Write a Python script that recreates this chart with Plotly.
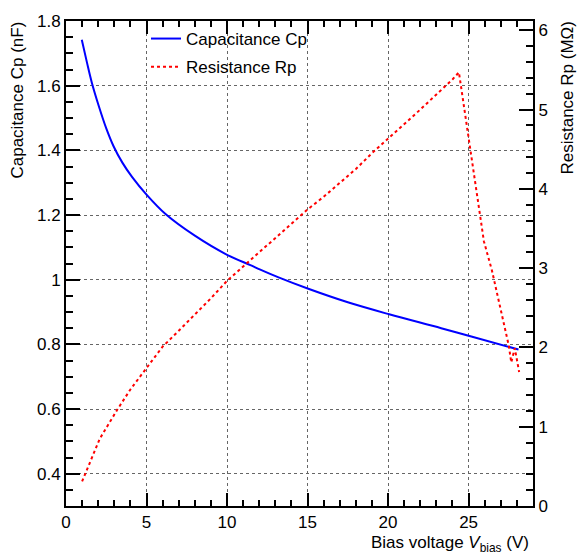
import plotly.graph_objects as go

# Capacitance data (V, nF)
cap_v = [0.98, 1.3, 1.6, 2.03, 2.5, 2.96, 3.5, 4.1, 5.0, 6.18, 8.0, 10.0, 11.45, 12.07,
         13.2, 15.09, 17.5, 20.07, 23.3, 25.17, 28.1]
cap_c = [1.742, 1.672, 1.610, 1.538, 1.468, 1.412, 1.362, 1.318, 1.263, 1.203, 1.136, 1.077,
         1.045, 1.031, 1.007, 0.971, 0.930, 0.893, 0.850, 0.824, 0.784]

# Resistance data (V, MOhm)
res_v = [1.0, 1.6, 2.1, 3.2, 4.0, 5.0, 6.0, 7.0, 8.0, 9.0, 10.0, 11.0, 12.0, 13.0, 14.0, 15.0,
         16.0, 17.0, 18.0, 19.0, 20.0, 21.0, 22.0, 23.0, 24.0, 24.4, 25.1, 25.95, 26.45, 27.5,
         27.65, 27.87, 28.14]
res_r = [0.31, 0.61, 0.85, 1.22, 1.47, 1.74, 2.01, 2.21, 2.41, 2.62, 2.84, 3.02, 3.19, 3.37,
         3.55, 3.74, 3.90, 4.07, 4.25, 4.45, 4.63, 4.82, 5.00, 5.19, 5.38, 5.47, 4.48, 3.34,
         2.97, 2.02, 1.81, 1.99, 1.69]

FONT = "Liberation Sans, Arial, sans-serif"
FS = 17

fig = go.Figure()
fig.add_trace(go.Scatter(x=cap_v, y=cap_c, mode="lines", name="Capacitance Cp",
                         line=dict(color="#0000ff", width=2, shape="spline", smoothing=1.0),
                         legendgroup="a"))
fig.add_trace(go.Scatter(x=res_v, y=res_r, mode="lines", name="Resistance Rp", yaxis="y2",
                         line=dict(color="#ff0000", width=2, dash="3px,3px"),
                         legendgroup="b"))

L, R, T, B = 66, 48, 13, 50
W, H = 581, 556
pw, ph = W - L - R, H - T - B

def px(xp):
    return (xp - L) / pw

def py(yp):
    return (H - B - yp) / ph

fig.update_layout(
    width=W, height=H,
    margin=dict(l=L, r=R, t=T, b=B, pad=0),
    paper_bgcolor="white", plot_bgcolor="white",
    font=dict(family=FONT, size=FS, color="black"),
    showlegend=True,
    legend=dict(x=px(146), y=py(13), xanchor="left", yanchor="top",
                bgcolor="rgba(255,255,255,0)", borderwidth=0,
                font=dict(size=FS), tracegroupgap=3),
    xaxis=dict(range=[0, 29], dtick=5, tick0=0, ticks="inside", ticklen=13, tickwidth=1.5,
               tickcolor="black", showline=True, linewidth=2, linecolor="black",
               mirror="ticks", showgrid=True, gridcolor="#666", griddash="dot", gridwidth=1,
               zeroline=False,
               minor=dict(dtick=1, ticks="inside", ticklen=6, tickwidth=1.5, tickcolor="black",
                          showgrid=False),
               tickfont=dict(size=FS)),
    yaxis=dict(range=[0.3, 1.8], dtick=0.2, tick0=0, ticks="inside", ticklen=14, tickwidth=1.5,
               tickcolor="black", showline=True, linewidth=2, linecolor="black",
               mirror=True, showgrid=True, gridcolor="#666", griddash="dot", gridwidth=1,
               zeroline=False,
               minor=dict(dtick=0.05, ticks="inside", ticklen=7, tickwidth=1.5,
                          tickcolor="black", showgrid=False),
               tickfont=dict(size=FS)),
    yaxis2=dict(range=[0, 6.117], dtick=1, tick0=0, overlaying="y", side="right",
                ticks="inside", ticklen=14, tickwidth=1.5, tickcolor="black",
                showline=True, linewidth=2, linecolor="black", showgrid=False,
                zeroline=False,
                minor=dict(dtick=0.2, ticks="inside", ticklen=7, tickwidth=1.5,
                           tickcolor="black", showgrid=False),
                tickfont=dict(size=FS)),
    annotations=[
        dict(text="Capacitance Cp (nF)", xref="paper", yref="paper", x=px(18), y=py(12),
             xanchor="center", yanchor="top", textangle=-90, showarrow=False,
             font=dict(size=FS)),
        dict(text="Resistance Rp (MΩ)", xref="paper", yref="paper", x=px(568), y=py(12),
             xanchor="center", yanchor="top", textangle=-90, showarrow=False,
             font=dict(size=FS)),
        dict(text="Bias voltage <i>V</i><sub>bias</sub> (V)", xref="paper", yref="paper",
             x=px(531), y=py(545), xanchor="right", yanchor="middle", showarrow=False,
             font=dict(size=FS)),
    ],
)

fig.write_html("out.html",
               config={"displayModeBar": False},
               post_script="document.body.style.margin='0';"
                           "document.body.style.overflow='hidden';")
